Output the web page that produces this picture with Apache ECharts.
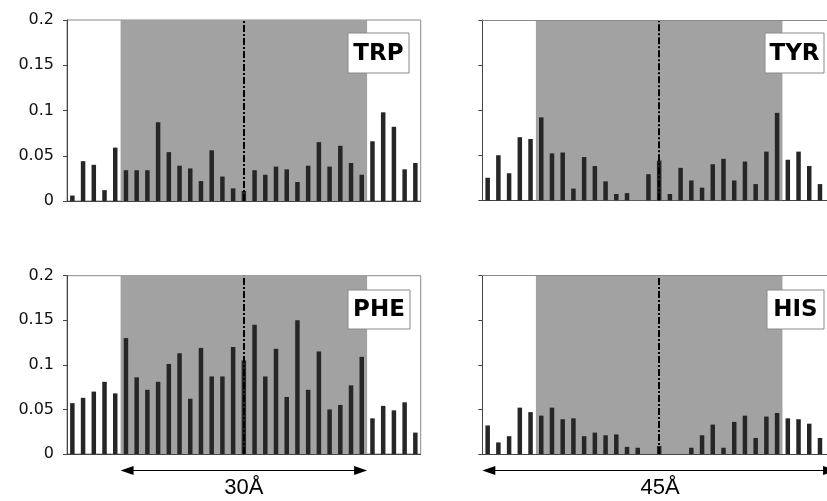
<!DOCTYPE html>
<html><head><meta charset="utf-8">
<script src="https://cdn.jsdelivr.net/npm/echarts@6/dist/echarts.min.js"></script>
<style>html,body{margin:0;padding:0;background:#fff}#c{width:827px;height:501px}</style>
</head><body><div id="c"></div>
<script>
// ---- data ----
const positions = Array.from({length: 33}, (_, i) => i + 1); // bin index along the axis
const panelNames = ['TRP', 'TYR', 'PHE', 'HIS'];
const trp = [0.006,0.044,0.040,0.012,0.059,0.034,0.034,0.034,0.087,0.054,0.039,0.036,0.022,0.056,0.027,0.014,0.011,0.034,0.029,0.038,0.035,0.021,0.039,0.065,0.038,0.061,0.042,0.029,0.066,0.098,0.082,0.035,0.042];
const tyr = [0.025,0.050,0.030,0.070,0.068,0.092,0.052,0.053,0.013,0.048,0.038,0.021,0.007,0.008,0,0.029,0.044,0.007,0.036,0.022,0.014,0.040,0.046,0.022,0.043,0.018,0.054,0.097,0.045,0.054,0.038,0.018,0.020];
const phe = [0.057,0.063,0.070,0.081,0.068,0.130,0.086,0.072,0.081,0.101,0.113,0.062,0.119,0.087,0.087,0.120,0.105,0.145,0.087,0.118,0.064,0.150,0.072,0.115,0.050,0.055,0.077,0.109,0.040,0.054,0.049,0.058,0.024];
const his = [0.032,0.013,0.020,0.052,0.047,0.043,0.052,0.039,0.040,0.020,0.024,0.021,0.022,0.008,0.007,0,0.009,0,0,0.007,0.021,0.033,0.007,0.036,0.043,0.018,0.042,0.046,0.040,0.039,0.034,0.018,0.020];
const yTicks = [0, 0.05, 0.1, 0.15, 0.2];
const shadeStart = 5, shadeEnd = 28, centre = 16.5; // in bin units
const visibleBinsRight = 32.155; // right-hand panels are cut off by the page edge
const spanLabels = ['30Å', '45Å'];

const chart = echarts.init(document.getElementById('c'));
const series = [trp, tyr, phe, his];
const grids = [
  {left: 67, top: 20, right: 406.3, height: 181},
  {left: 482.3, top: 20, right: 0, height: 180.3},
  {left: 67, top: 275.7, right: 406.3, height: 178.3},
  {left: 482.3, top: 275.7, right: 0, height: 178.3}
];
const opt = {
  animation: false,
  grid: grids.map((g, i) => Object.assign({show: i % 2 === 0, borderColor: '#8a8a8a', borderWidth: 1, backgroundColor: '#fff'}, g)),
  xAxis: grids.map((g, i) => ({
    type: 'value', gridIndex: i, min: 0, max: i % 2 === 0 ? positions.length : visibleBinsRight,
    axisLine: {show: true, onZero: true, lineStyle: {color: '#444', width: 1}},
    axisTick: {show: false}, axisLabel: {show: false}, splitLine: {show: false}
  })),
  yAxis: grids.map((g, i) => ({
    type: 'value', gridIndex: i, min: yTicks[0], max: yTicks[yTicks.length - 1], interval: 0.05,
    axisLine: {show: true, lineStyle: {color: '#444', width: 1}},
    axisTick: {show: true, length: 4, lineStyle: {color: '#444'}},
    axisLabel: {show: i % 2 === 0, margin: 13, color: '#111', fontFamily: 'DejaVu Sans', fontSize: 16,
      formatter: v => String(+v.toFixed(2))},
    splitLine: {show: false}
  })),
  series: []
};
series.forEach((vals, i) => {
  const lines = [{xAxis: centre}];
  if (i % 2 === 1) lines.push({yAxis: yTicks[yTicks.length - 1], lineStyle: {color: '#8a8a8a', width: 1, type: 'solid'}});
  opt.series.push({
    type: 'scatter', xAxisIndex: i, yAxisIndex: i, data: [], z: 1, silent: true,
    markArea: {silent: true, itemStyle: {color: '#a2a2a2'}, data: [[{xAxis: shadeStart}, {xAxis: shadeEnd}]]}
  });
  opt.series.push({
    type: 'bar', xAxisIndex: i, yAxisIndex: i, z: 3, barWidth: 4.5,
    itemStyle: {color: '#262626'},
    data: vals.map((v, k) => [positions[k] - 0.5, v]),
    markLine: {silent: true, symbol: 'none', label: {show: false},
      lineStyle: {color: '#000', width: 2, type: [7, 2, 2, 2]},
      data: lines}
  });
});
chart.setOption(opt);

// annotation boxes and distance arrows
const boxes = [
  {x: 348, y: 33, w: 61, h: 40},
  {x: 765, y: 33, w: 59, h: 40},
  {x: 348, y: 290, w: 62, h: 39},
  {x: 767, y: 290, w: 57, h: 39}
];
const graphic = [];
boxes.forEach((b, i) => {
  graphic.push({type: 'rect', shape: {x: b.x, y: b.y, width: b.w, height: b.h},
    style: {fill: '#fff', stroke: '#8a8a8a', lineWidth: 1}, z: 10});
  graphic.push({type: 'text', x: b.x + b.w / 2, y: b.y + b.h / 2 + 1, z: 11,
    style: {text: panelNames[i], fontFamily: 'DejaVu Sans', fontWeight: 'bold', fontSize: 23,
      fill: '#000', align: 'center', verticalAlign: 'middle'}});
});
function arrow(x1, x2, y) {
  const L = 13, W = 4.5;
  graphic.push({type: 'line', shape: {x1: x1 + 6, y1: y, x2: x2 - 6, y2: y}, style: {stroke: '#000', lineWidth: 1.2}, z: 10});
  graphic.push({type: 'polygon', shape: {points: [[x1, y], [x1 + L, y - W], [x1 + L, y + W]]}, style: {fill: '#000'}, z: 10});
  graphic.push({type: 'polygon', shape: {points: [[x2, y], [x2 - L, y - W], [x2 - L, y + W]]}, style: {fill: '#000'}, z: 10});
}
const aY = 470.5;
const a1 = chart.convertToPixel({gridIndex: 2}, [shadeStart, 0])[0];
const a2 = chart.convertToPixel({gridIndex: 2}, [shadeEnd, 0])[0];
const b1 = chart.convertToPixel({gridIndex: 3}, [0, 0])[0];
const b2 = chart.convertToPixel({gridIndex: 3}, [positions.length, 0])[0];
arrow(a1, a2, aY);
arrow(b1, b2, aY);
[[ (a1 + a2) / 2, spanLabels[0]], [660, spanLabels[1]]].forEach(([cx, t]) => {
  graphic.push({type: 'text', x: cx, y: 499, z: 11,
    style: {text: t, fontFamily: 'Liberation Sans', fontSize: 22, fill: '#000', align: 'center', verticalAlign: 'bottom'}});
});
chart.setOption({graphic});
</script></body></html>
